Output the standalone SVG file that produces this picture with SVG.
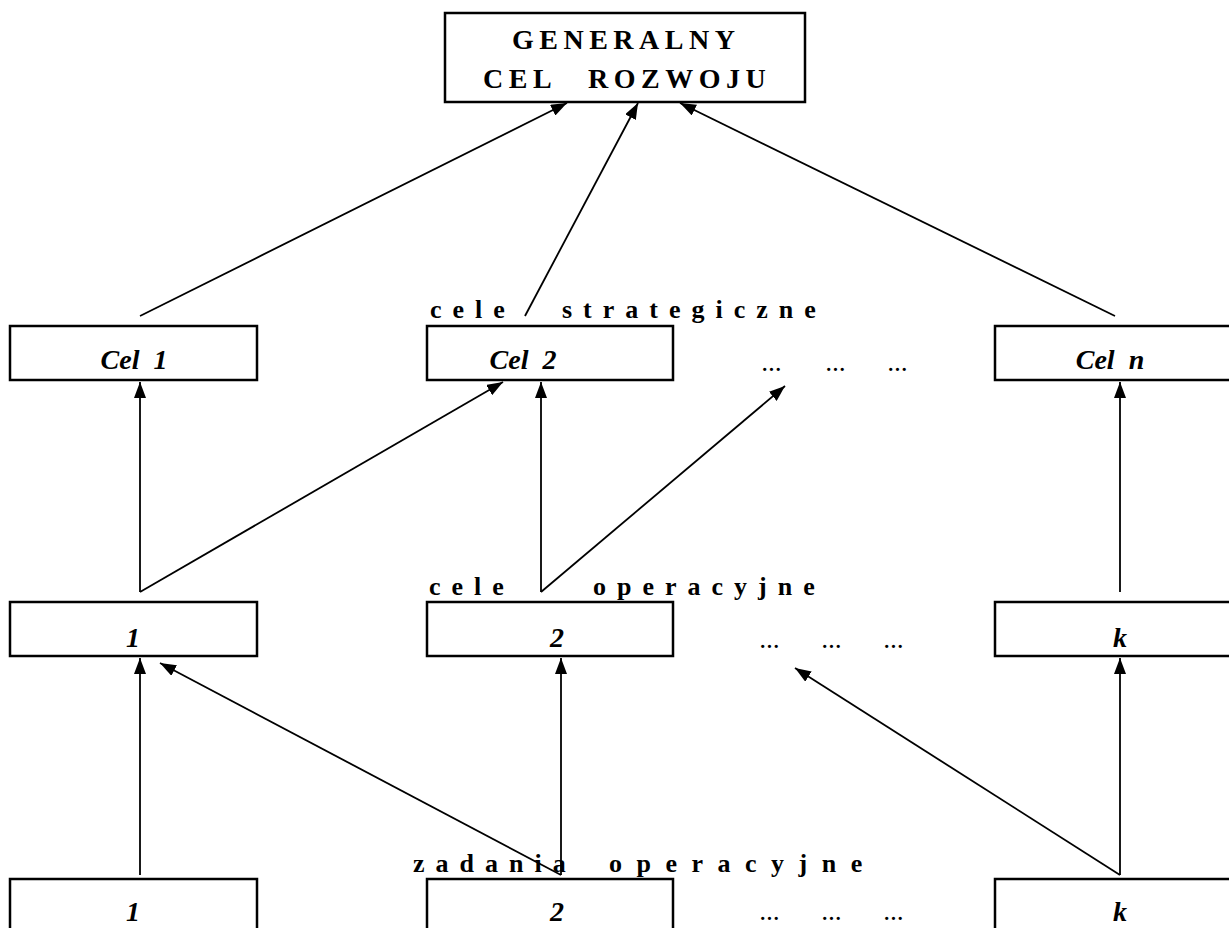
<svg xmlns="http://www.w3.org/2000/svg" width="1229" height="928" viewBox="0 0 1229 928">
<defs>
<marker id="ah" viewBox="0 0 16 12" refX="16" refY="6" markerWidth="16" markerHeight="12" markerUnits="userSpaceOnUse" orient="auto">
<path d="M0,0 L16,6 L0,12 z" fill="#000"/>
</marker>
</defs>
<style>
.box{fill:#fff;stroke:#000;stroke-width:2.5}
.lbl{font-family:"Liberation Serif",serif;font-weight:bold;font-size:26px;letter-spacing:11px}
.hd{font-family:"Liberation Serif",serif;font-weight:bold;font-size:28px;letter-spacing:5.5px}
.it{font-family:"Liberation Serif",serif;font-weight:bold;font-style:italic;font-size:28px;text-anchor:middle;white-space:pre}
.dots{font-family:"Liberation Serif",serif;font-style:italic;font-size:27px}
.con line{stroke:#000;stroke-width:1.8;fill:none}
.con .a{marker-end:url(#ah)}
</style>
<rect width="1229" height="928" fill="#fff"/>
<g id="top">
<rect class="box" x="445" y="13" width="360" height="89"/>
<text class="hd" x="512" y="49">GENERALNY</text>
<text class="hd" x="483" y="88">CEL</text>
<text class="hd" x="588" y="88">ROZWOJU</text>
</g>
<g id="labels">
<text class="lbl" x="430" y="318">cele</text>
<text class="lbl" x="562" y="318">strategiczne</text>
<text class="lbl" x="429" y="595">cele</text>
<text class="lbl" x="593" y="595">operacyjne</text>
<text class="lbl" x="413" y="872">zadania</text>
<text class="lbl" x="609" y="872" style="letter-spacing:14.5px">operacyjne</text>
</g>
<g id="cel1"><rect class="box" x="10" y="326" width="247" height="54"/><text class="it" x="134" y="369" xml:space="preserve">Cel  1</text></g>
<g id="cel2"><rect class="box" x="427" y="326" width="246" height="54"/><text class="it" x="523" y="369" xml:space="preserve">Cel  2</text></g>
<g id="celdots"><text class="dots" x="762" y="371">...</text><text class="dots" x="826" y="371">...</text><text class="dots" x="888" y="371">...</text></g>
<g id="celn"><rect class="box" x="995" y="326" width="250" height="54"/><text class="it" x="1110" y="369" xml:space="preserve">Cel  n</text></g>
<g id="op1"><rect class="box" x="10" y="602" width="247" height="54"/><text class="it" x="133" y="647">1</text></g>
<g id="op2"><rect class="box" x="427" y="602" width="246" height="54"/><text class="it" x="557" y="647">2</text></g>
<g id="opdots"><text class="dots" x="760" y="648">...</text><text class="dots" x="822" y="648">...</text><text class="dots" x="884" y="648">...</text></g>
<g id="opk"><rect class="box" x="995" y="602" width="250" height="54"/><text class="it" x="1120" y="647">k</text></g>
<g id="z1"><rect class="box" x="10" y="879" width="247" height="60"/><text class="it" x="133" y="921">1</text></g>
<g id="z2"><rect class="box" x="427" y="879" width="246" height="60"/><text class="it" x="557" y="921">2</text></g>
<g id="zdots"><text class="dots" x="760" y="920">...</text><text class="dots" x="822" y="920">...</text><text class="dots" x="884" y="920">...</text></g>
<g id="zk"><rect class="box" x="995" y="879" width="250" height="60"/><text class="it" x="1120" y="921">k</text></g>
<g id="connectors" class="con">
<line class="a" x1="140" y1="316" x2="567" y2="103"/>
<line class="a" x1="525" y1="316" x2="638" y2="103"/>
<line class="a" x1="1115" y1="316" x2="680" y2="103"/>
<line class="a" x1="140" y1="592" x2="140" y2="382"/>
<line class="a" x1="140" y1="592" x2="503" y2="382"/>
<line class="a" x1="541" y1="592" x2="541" y2="382"/>
<line class="a" x1="541" y1="592" x2="785" y2="386"/>
<line class="a" x1="1120" y1="592" x2="1120" y2="382"/>
<line class="a" x1="140" y1="875" x2="140" y2="658"/>
<line class="a" x1="561" y1="875" x2="160" y2="663"/>
<line class="a" x1="561" y1="875" x2="561" y2="658"/>
<line class="a" x1="1120" y1="875" x2="1120" y2="658"/>
<line class="a" x1="1120" y1="875" x2="795" y2="668"/>
</g>
</svg>
